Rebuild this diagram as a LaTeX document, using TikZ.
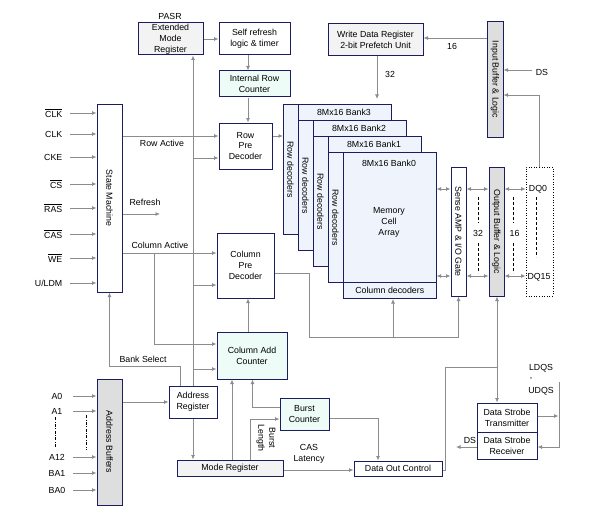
\documentclass[tikz,border=0pt]{standalone}
\usepackage{fontspec}
\setmainfont{Liberation Sans}
\usetikzlibrary{arrows.meta}
\definecolor{navy}{RGB}{28,28,96}
\definecolor{agray}{RGB}{140,140,140}
\definecolor{dgray}{RGB}{222,222,222}
\definecolor{lgray}{RGB}{243,243,243}
\definecolor{mint}{RGB}{238,252,247}
\definecolor{bankblue}{RGB}{239,244,252}
\newcommand{\dfont}{\fontsize{8.8}{10.9}\selectfont}
\tikzset{
  box/.style={draw=navy, line width=1pt, inner sep=0pt, align=center, font=\dfont, fill=white},
  bank/.style={box, fill=bankblue},
  dotbox/.style={draw=black, line width=0.8pt, dash pattern=on 1pt off 1.6pt, inner sep=0pt},
  txt/.style={inner sep=0pt, align=center, font=\dfont},
  arr/.style={draw=agray, line width=0.85pt, -{Latex[length=4.5pt,width=4pt]}},
  conn/.style={draw=agray, line width=0.85pt},
  dblarr/.style={draw=agray, line width=0.85pt, {Latex[length=4.5pt,width=4pt]}-{Latex[length=4.5pt,width=4pt]}},
  dsh/.style={draw=black, line width=0.7pt, dash pattern=on 3pt off 2pt},
  dshdot/.style={draw=black, line width=0.6pt, dash pattern=on 3pt off 1.5pt on 0.8pt off 1.5pt},
}
\begin{document}
\begin{tikzpicture}[x=1pt,y=-1pt]
\useasboundingbox (0,0) rectangle (600,519);

% ---- boxes ----
\node[txt] (pasr) at (170,16) {PASR};
\node[box,fill=lgray,minimum width=65,minimum height=32] (emr) at (170.5,39) {Extended\\Mode\\Register};
\node[box,minimum width=71,minimum height=32] (srl) at (254.5,39) {Self refresh\\logic \& timer};
\node[box,fill=mint,minimum width=71,minimum height=26] (irc) at (254.5,84) {Internal Row\\Counter};
\node[box,minimum width=53,minimum height=46] (rpd) at (245.5,146) {Row\\Pre\\Decoder};
\node[box,minimum width=25,minimum height=188] (sm) at (109.5,198) {};
\node[txt,rotate=-90] (smt) at (sm.center) {State Machine};
\node[box,minimum width=57,minimum height=65] (cpd) at (245.5,265.5) {Column\\Pre\\Decoder};
\node[box,fill=mint,minimum width=70,minimum height=47] (cac) at (252,355.5) {Column Add\\Counter};
\node[box,minimum width=48,minimum height=32] (ar) at (193,402) {Address\\Register};
\node[box,fill=dgray,minimum width=25,minimum height=126] (ab) at (109.5,442) {};
\node[txt,rotate=-90] (abt) at (ab.center) {Address Buffers};
\node[box,fill=lgray,minimum width=106,minimum height=16] (mr) at (230,468) {Mode Register};
\node[box,fill=mint,minimum width=49,minimum height=32] (bc) at (304.5,414) {Burst\\Counter};
\node[box,minimum width=88,minimum height=15] (doc) at (398,468.5) {Data Out Control};
\node[box,fill=lgray,minimum width=95,minimum height=32] (wdr) at (375.5,40) {Write Data Register\\2-bit Prefetch Unit};
\node[box,fill=dgray,minimum width=16,minimum height=115] (ib) at (495,79.5) {};
\node[txt,rotate=-90] (ibt) at (ib.center) {Input Buffer \& Logic};

% ---- banks ----
\node[bank,minimum width=107.5,minimum height=130,anchor=north west] (bk3) at (283,104) {};
\draw[navy,line width=1pt] ([xshift=15pt]bk3.north west) -- ([xshift=15pt]bk3.south west);
\node[txt] (bk3t) at ([xshift=61pt,yshift=-8pt]bk3.north west) {8Mx16 Bank3};
\node[txt,rotate=-90] (bk3r) at ([xshift=7.5pt]bk3.west) {Row decoders};

\node[bank,minimum width=107.5,minimum height=130,anchor=north west] (bk2) at (298,120) {};
\draw[navy,line width=1pt] ([xshift=15pt]bk2.north west) -- ([xshift=15pt]bk2.south west);
\node[txt] (bk2t) at ([xshift=61pt,yshift=-8pt]bk2.north west) {8Mx16 Bank2};
\node[txt,rotate=-90] (bk2r) at ([xshift=7.5pt]bk2.west) {Row decoders};

\node[bank,minimum width=107.5,minimum height=130,anchor=north west] (bk1) at (313,136) {};
\draw[navy,line width=1pt] ([xshift=15pt]bk1.north west) -- ([xshift=15pt]bk1.south west);
\node[txt] (bk1t) at ([xshift=61pt,yshift=-8pt]bk1.north west) {8Mx16 Bank1};
\node[txt,rotate=-90] (bk1r) at ([xshift=7.5pt]bk1.west) {Row decoders};

\node[bank,minimum width=107.5,minimum height=130,anchor=north west] (bk0) at (328,152) {};
\draw[navy,line width=1pt] ([xshift=15pt]bk0.north west) -- ([xshift=15pt]bk0.south west);
\node[txt] (bk0t) at ([xshift=61pt,yshift=-11pt]bk0.north west) {8Mx16 Bank0};
\node[txt,rotate=-90] (bk0r) at ([xshift=7.5pt]bk0.west) {Row decoders};
\node[txt] (mca) at (389,222) {Memory\\Cell\\Array};
\node[bank,minimum width=92.5,minimum height=16,anchor=north west] (cd) at (343,282) {Column decoders};

% ---- right column ----
\node[box,minimum width=15,minimum height=129] (sa) at (458.5,231.5) {};
\node[txt,rotate=-90] (sat) at (sa.center) {Sense AMP \& I/O Gate};
\node[box,fill=dgray,minimum width=15,minimum height=129] (ob) at (496.5,231.5) {};
\node[txt,rotate=-90] (obt) at (ob.center) {Output Buffer \& Logic};
\node[dotbox,minimum width=27,minimum height=129] (dq) at (539.5,231.5) {};
\node[txt] (dq0) at (538,189) {DQ0};
\node[txt] (dq15) at (539,277) {DQ15};
\draw[dsh] (536,197) -- (536,257);

\node[box,minimum width=60,minimum height=29] (dst) at (507,417.5) {Data Strobe\\Transmitter};
\node[box,minimum width=60,minimum height=27] (dsr) at (507,445.5) {Data Strobe\\Receiver};
\node[txt] (ldqs) at (541,368) {LDQS};
\node[txt] (comma) at (531,379) {,};
\node[txt] (udqs) at (541,391) {UDQS};

% ---- State machine inputs ----
\foreach \lab/\yy in {{$\overline{\mbox{CLK}}$}/113, {CLK}/134, {CKE}/157, {$\overline{\mbox{CS}}$}/184, {$\overline{\mbox{RAS}}$}/208, {$\overline{\mbox{CAS}}$}/234, {$\overline{\mbox{WE}}$}/258, {U/LDM}/283}{
  \node[txt,anchor=east] at (62.5,\yy) {\lab};
  \draw[arr] (70,\yy) -- (sm.west |- 0,\yy);
}
% ---- Address inputs ----
\foreach \lab/\yy in {A0/396, A1/411, A12/457, BA1/473, BA0/490}{
  \node[txt] at (57,\yy) {\lab};
  \draw[arr] (73,\yy) -- (ab.west |- 0,\yy);
}
\draw[dshdot] (55,417) -- (55,448);
\draw[dshdot] (86,415) -- (86,450);

% ---- connectors ----
\draw[arr] (emr.east) -- (srl.west);
\draw[arr] (srl.south -| 248,0) -- (irc.north -| 248,0);
\draw[arr] (irc.south -| 248,0) -- (rpd.north -| 248,0);
\draw[arr] (sm.east |- 0,136) -- (rpd.west |- 0,136);
\node[txt] at (162,143) {Row Active};
\draw[arr] (ar.north) -- (emr.south -| ar.north);
\draw[arr] (193,158) -- (rpd.west |- 0,158);
\draw[arr] (193,285) -- (cpd.west |- 0,285);
\draw[arr] (193,369) -- (cac.west |- 0,369);
\coordinate (refend) at (160,214);
\draw[arr] (sm.east |- refend) -- (refend);
\node[txt] at (145,202) {Refresh};
\draw[arr] (sm.east |- 0,253) -- (cpd.west |- 0,253);
\node[txt] at (160,245) {Column Active};
\draw[arr] (154,253) -- (154,344) -- (cac.west |- 0,344);
\draw[arr] (cac.north -| 248,0) -- (cpd.south -| 248,0);
\draw[arr] (ar.north -| 180,0) -- (180,366) -- (sm.south |- 0,366) -- (sm.south);
\node[txt] at (143,359) {Bank Select};
\draw[arr] (ab.east |- 0,402) -- (ar.west);
\draw[arr] (ar.south) -- (mr.north -| ar.south);
\draw[arr] (mr.north -| 232,0) -- (cac.south -| 232,0);
\draw[arr] (mr.north -| 250,0) -- (250,419) -- (bc.west |- 0,419);
\node[txt,rotate=-90] at (266,438) {Burst\\Length};
\draw[arr] (bc.west |- 0,407) -- (252.5,407) -- (cac.south -| 252.5,0);
\draw[arr] (bc.east |- 0,418) -- (378,418) -- (doc.north -| 378,0);
\draw[arr] (mr.east |- 0,470) -- (doc.west |- 0,470);
\node[txt] at (309,454) {CAS\\Latency};
\draw[conn] (doc.east |- 0,470) -- (445,470) -- (445,367) -- (497,367);
\draw[dblarr] (ob.south -| 497,0) -- (dst.north -| 497,0);
\draw[arr] (dst.east |- 0,416) -- (558.5,416);
\draw[arr] (559,382) -- (559,447) -- (dsr.east |- 0,447);
\draw[arr] (dsr.west |- 0,447) -- (456,447);
\node[txt] at (470,440) {DS};

\draw[arr] (ib.west |- 0,38) -- (wdr.east |- 0,38);
\node[txt] at (452,46) {16};
\draw[arr] (wdr.south -| 377,0) -- (377,99);
\node[txt] at (390,74) {32};
\draw[arr] (532,70) -- (ib.east |- 0,70);
\node[txt] at (542,72) {DS};
\draw[arr] (dq.north -| 539,0) -- (539,95) -- (ib.east |- 0,95);
\draw[arr] (rpd.east |- 0,136) -- (bk3.west |- 0,136);

\foreach \yy in {189,276}{
  \draw[dblarr] (bk0.east |- 0,\yy) -- (sa.west |- 0,\yy);
  \draw[dblarr] (sa.east |- 0,\yy) -- (ob.west |- 0,\yy);
  \draw[dblarr] (ob.east |- 0,\yy) -- (dq.west |- 0,\yy);
}
\draw[dsh] (478,197) -- (478,223);
\draw[dsh] (478,243) -- (478,273);
\node[txt] at (478,233) {32};
\draw[dsh] (513,197) -- (513,223);
\draw[dsh] (513,243) -- (513,273);
\node[txt] at (514.5,233) {16};

\draw[conn] (cpd.east |- 0,273) -- (309,273) -- (309,337) -- (458.5,337);
\draw[arr] (393,337) -- (cd.south -| 393,0);
\draw[arr] (458.5,337) -- (sa.south);
\end{tikzpicture}
\end{document}
